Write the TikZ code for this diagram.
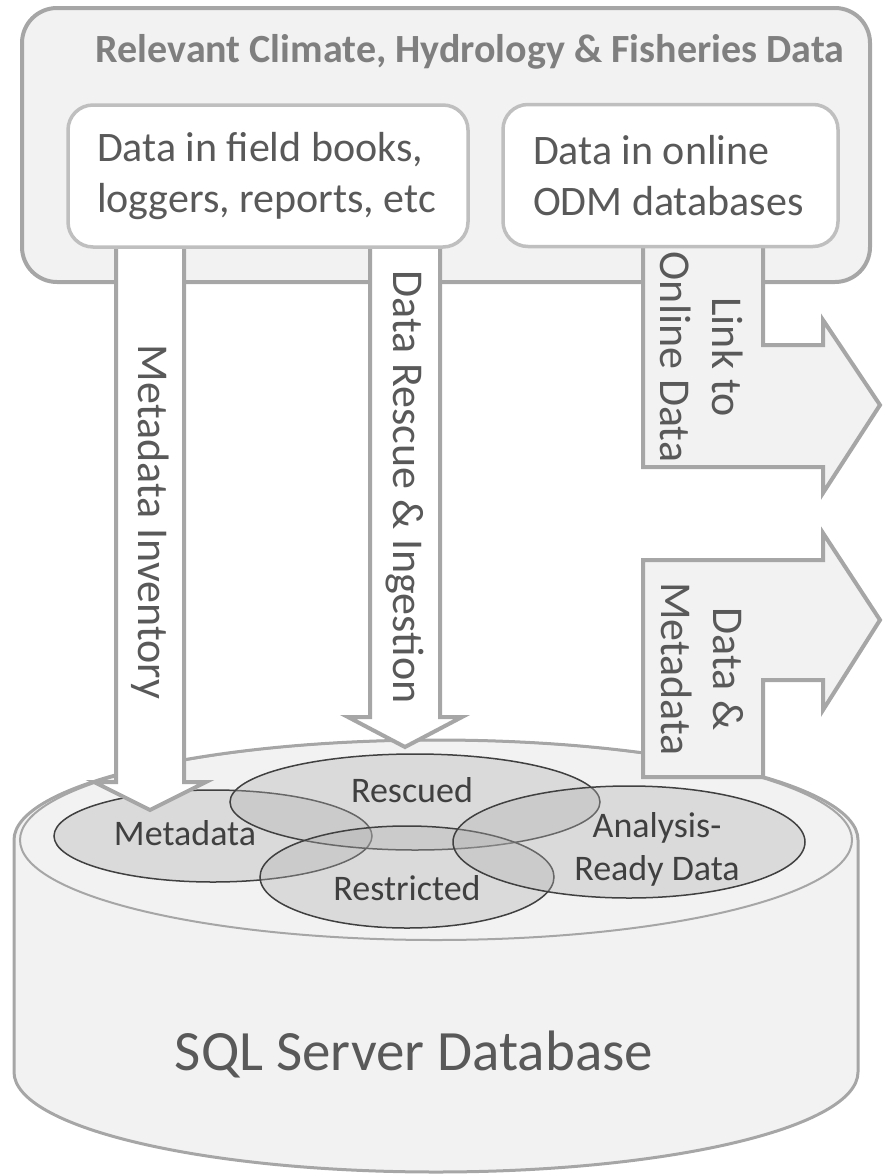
\documentclass[tikz,border=0pt]{standalone}
\usepackage{fontspec}
\setmainfont{Carlito}
\usetikzlibrary{shapes.geometric}

\definecolor{panel}{HTML}{F2F2F2}
\definecolor{linegray}{HTML}{A6A6A6}
\definecolor{innergray}{HTML}{BFBFBF}
\definecolor{txtgray}{HTML}{595959}
\definecolor{titlegray}{HTML}{7F7F7F}
\definecolor{venngray}{HTML}{404040}
\definecolor{vennfill}{HTML}{B0B0B0}

\begin{document}
\begin{tikzpicture}[
  x=1pt, y=-1pt,
  font=\fontsize{42}{51}\selectfont, text=txtgray,
  panelbox/.style={draw=linegray, line width=4pt, fill=panel, rounded corners=35pt, minimum width=848pt, minimum height=274pt},
  srcbox/.style={draw=innergray, line width=3.5pt, fill=white, rounded corners=25pt, align=flush left, minimum height=142pt, inner ysep=0pt},
  downarrow/.style={draw=linegray, line width=4pt, fill=white},
  outarrow/.style={draw=linegray, line width=4pt, fill=panel},
  cyl/.style={draw=linegray, line width=3pt, fill=panel},
  venn/.style={ellipse, draw=venngray, line width=1.5pt, fill=vennfill, fill opacity=0.35, inner sep=0pt},
  vlabel/.style={text=venngray, font=\fontsize{36}{43}\selectfont, align=center},
  turned/.style={rotate=-90, align=center, font=\fontsize{44}{52}\selectfont}
]
\useasboundingbox (0,0) rectangle (883,1175);

% database cylinder
\draw[cyl] (14,840) arc[start angle=180, end angle=360, x radius=422, y radius=100]
  -- (858,1072) arc[start angle=0, end angle=180, x radius=422, y radius=100] -- cycle;
\draw[draw=linegray, line width=2pt] (436,840) ellipse [x radius=416, y radius=100];

\node[venn, minimum width=318pt, minimum height=92pt] (meta) at (213,836) {};
\node[venn, minimum width=370pt, minimum height=96pt] (resc) at (415,802) {};
\node[venn, minimum width=294pt, minimum height=102pt] (restr) at (407,877) {};
\node[venn, minimum width=352pt, minimum height=112pt] (ready) at (629,842) {};

\node[vlabel, anchor=base] (metalbl) at (185,845) {Metadata};
\node[vlabel, anchor=base] (resclbl) at (412,802) {Rescued};
\node[vlabel, anchor=base] (restrlbl) at (407,900) {Restricted};
\node[vlabel] (readylbl) at (657,849) {Analysis-\\Ready Data};

\node[anchor=base, font=\fontsize{57}{64}\selectfont] (dbname) at (414,1070) {SQL Server Database};

% data sources
\node[panelbox] (sources) at (446,145) {};
\node[anchor=base, font=\fontsize{40}{48}\selectfont\bfseries, text=titlegray] (title) at (470,62) {Relevant Climate, Hydrology \& Fisheries Data};

\draw[outarrow] (643,240) -- (763,240) -- (763,345) -- (823,345) -- (823,320) -- (880,405)
  -- (823,493) -- (823,467) -- (643,467) -- cycle;
\draw[outarrow] (643,560) -- (823,560) -- (823,533) -- (880,620) -- (823,710) -- (823,680)
  -- (763,680) -- (763,777) -- (643,777) -- cycle;

\draw[downarrow] (116,240) -- (116,782) -- (94,782) -- (150,810) -- (206,782) -- (184,782) -- (184,240);
\draw[downarrow] (370,240) -- (370,717) -- (348,717) -- (405,747) -- (462,717) -- (440,717) -- (440,240);

\node[srcbox, text width=342pt, inner xsep=29pt] (books) at (268,176) {Data in field books,\\loggers, reports, etc};
\node[srcbox, text width=275pt, inner xsep=30pt] (odm) at (670.5,175.5) {Data in online\\ODM databases};

\node[turned] (inventory) at (150,522) {Metadata Inventory};
\node[turned] (rescue) at (405,487) {Data Rescue \& Ingestion};
\node[turned] (linklbl) at (702,357) {Link to\\Online Data};
\node[turned] (datalbl) at (702,669) {Data \&\\Metadata};

\end{tikzpicture}
\end{document}
